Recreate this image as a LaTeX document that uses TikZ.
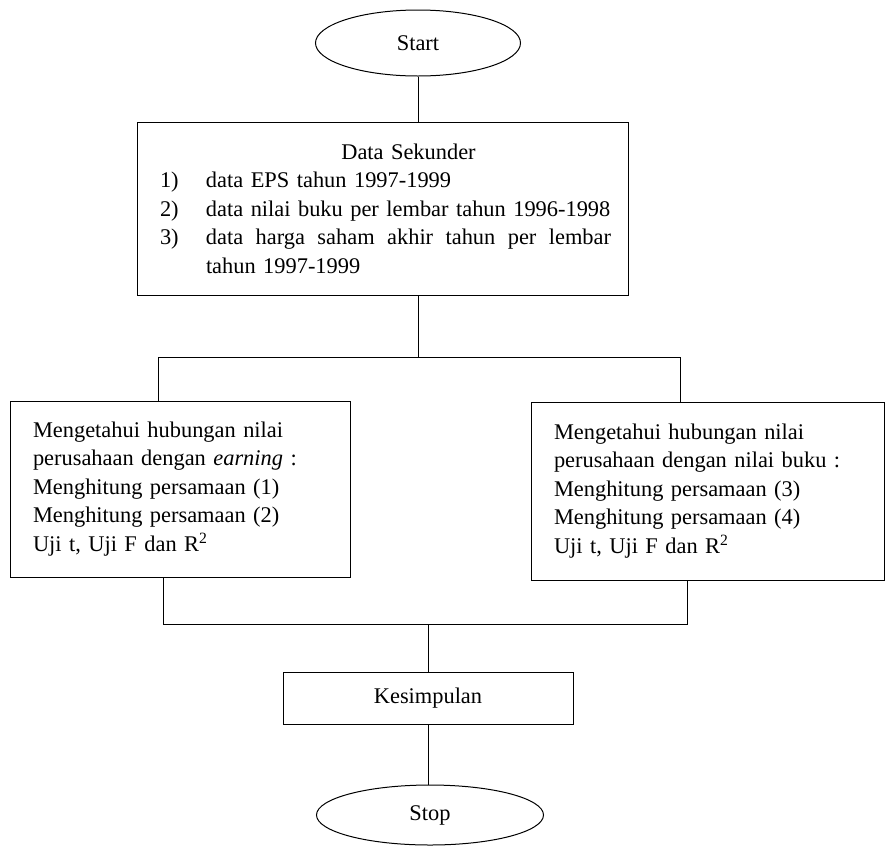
\documentclass[tikz,border=0pt]{standalone}
\usepackage{fontspec}
\setmainfont{Liberation Serif}
\usetikzlibrary{shapes.geometric}
\begin{document}
\begin{tikzpicture}[x=1pt,y=-1pt]
\tikzstyle{every node}=[font=\fontsize{22.4}{28.5}\selectfont]
\tikzstyle{terminal}=[ellipse,draw,line width=1pt,inner sep=0pt]
\tikzstyle{proses}=[rectangle,draw,line width=1pt,inner sep=0pt]
\tikzstyle{garis}=[line width=1pt]
\useasboundingbox (0,0) rectangle (885,847);

\node[terminal,minimum width=205,minimum height=66] (start) at (418,43) {Start};
\node[proses,minimum width=491,minimum height=173,text width=445,align=left] (data) at (382.5,208.5)
{\mbox{\hspace*{46pt}\makebox[405pt]{Data Sekunder}}\\
\mbox{\makebox[46pt][l]{1)}data EPS tahun 1997-1999}\\
\mbox{\makebox[46pt][l]{2)}data nilai buku per lembar tahun 1996-1998}\\
\mbox{\makebox[46pt][l]{3)}\makebox[405pt][l]{data\hfill harga\hfill saham\hfill akhir\hfill tahun\hfill per\hfill lembar}}\\
\mbox{\hspace*{46pt}tahun 1997-1999}};
\node[proses,minimum width=340,minimum height=176,text width=294,align=left] (kiri) at (180,489)
{\mbox{Mengetahui hubungan nilai}\\ \mbox{perusahaan dengan \textit{earning} :}\\ \mbox{Menghitung persamaan (1)}\\ \mbox{Menghitung persamaan (2)}\\ \mbox{Uji t, Uji F dan R\textsuperscript{2}}};
\node[proses,minimum width=353,minimum height=178,text width=307,align=left] (kanan) at (707.5,491)
{\mbox{Mengetahui hubungan nilai}\\ \mbox{perusahaan dengan nilai buku :}\\ \mbox{Menghitung persamaan (3)}\\ \mbox{Menghitung persamaan (4)}\\ \mbox{Uji t, Uji F dan R\textsuperscript{2}}};
\node[proses,minimum width=290,minimum height=52] (simpul) at (428,698) {Kesimpulan};
\node[terminal,minimum width=227,minimum height=60] (stop) at (430,815) {Stop};

% percabangan
\coordinate (cabang) at (418,357);
\coordinate (cabangkiri) at (158,357);
\coordinate (cabangkanan) at (680,357);
\coordinate (gabungkiri) at (163,624);
\coordinate (gabungkanan) at (687,624);
\coordinate (gabung) at (428,624);

\draw[garis] (start.south) -- (start.south |- data.north);
\draw[garis] (data.south -| cabang) -- (cabang);
\draw[garis] (cabangkiri) -- (cabangkanan);
\draw[garis] (cabangkiri) -- (cabangkiri |- kiri.north);
\draw[garis] (cabangkanan) -- (cabangkanan |- kanan.north);
\draw[garis] (gabungkiri |- kiri.south) -- (gabungkiri) -- (gabungkanan) -- (gabungkanan |- kanan.south);
\draw[garis] (gabung) -- (simpul);
\draw[garis] (simpul.south) -- (simpul.south |- stop.north);
\end{tikzpicture}
\end{document}
